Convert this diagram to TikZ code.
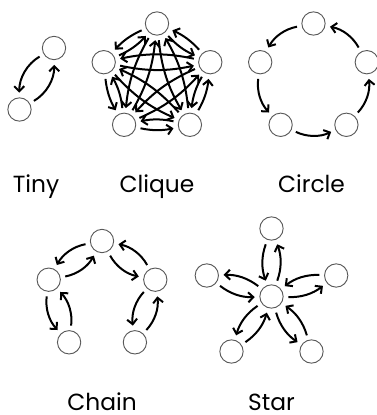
\documentclass[tikz,border=0pt]{standalone}
\usepackage{fontspec}
\setmainfont{Poppins}
\usepackage{tikz}
\usetikzlibrary{arrows.meta}

\begin{document}
\begin{tikzpicture}[
  x=0.75pt,y=0.75pt,
  V/.style={draw=black!65,line width=0.7pt,circle,minimum size=17.5pt,inner sep=0pt},
  A/.style={line width=1.5pt,-{Straight Barb[length=3.8pt,width=7.5pt]},shorten >=3.5pt,shorten <=3.5pt},
  L/.style={font=\fontsize{17.5}{19}\selectfont,anchor=base,inner sep=0pt,text depth=0pt}
]
\useasboundingbox (0,0) rectangle (376,415);

% tiny
\node[V] (t1) at (54,367) {};
\node[V] (t2) at (19.5,305.5) {};
\draw[A] (t1) to[bend right=30] (t2);
\draw[A] (t2) to[bend right=30] (t1);
\node[L] (ltiny) at (36,222) {Tiny};

% clique
\node[V] (q1) at (157,391.5) {};
\node[V] (q2) at (103.7,352.8) {};
\node[V] (q3) at (124.1,290.2) {};
\node[V] (q4) at (189.9,290.2) {};
\node[V] (q5) at (210.3,352.8) {};
\draw[A] (q1) to[bend right=12] (q2);
\draw[A] (q1) to[bend right=12] (q3);
\draw[A] (q1) to[bend right=12] (q4);
\draw[A] (q1) to[bend right=12] (q5);
\draw[A] (q2) to[bend right=12] (q1);
\draw[A] (q2) to[bend right=12] (q3);
\draw[A] (q2) to[bend right=12] (q4);
\draw[A] (q2) to[bend right=12] (q5);
\draw[A] (q3) to[bend right=12] (q1);
\draw[A] (q3) to[bend right=12] (q2);
\draw[A] (q3) to[bend right=12] (q4);
\draw[A] (q3) to[bend right=12] (q5);
\draw[A] (q4) to[bend right=12] (q1);
\draw[A] (q4) to[bend right=12] (q2);
\draw[A] (q4) to[bend right=12] (q3);
\draw[A] (q4) to[bend right=12] (q5);
\draw[A] (q5) to[bend right=12] (q1);
\draw[A] (q5) to[bend right=12] (q2);
\draw[A] (q5) to[bend right=12] (q3);
\draw[A] (q5) to[bend right=12] (q4);
\node[L] (lclique) at (157,222) {Clique};

% circle
\node[V] (o1) at (313.5,391.5) {};
\node[V] (o2) at (260.2,352.8) {};
\node[V] (o3) at (280.6,290.2) {};
\node[V] (o4) at (346.4,290.2) {};
\node[V] (o5) at (366.8,352.8) {};
\draw[A] (o1) to[bend right=25] (o2);
\draw[A] (o2) to[bend right=25] (o3);
\draw[A] (o3) to[bend right=25] (o4);
\draw[A] (o4) to[bend right=25] (o5);
\draw[A] (o5) to[bend right=25] (o1);
\node[L] (lcircle) at (311.5,222) {Circle};

% chain
\node[V] (h1) at (102,174) {};
\node[V] (h2) at (48.7,135.3) {};
\node[V] (h3) at (69.1,72.7) {};
\node[V] (h4) at (134.9,72.7) {};
\node[V] (h5) at (155.3,135.3) {};
\draw[A] (h1) to[bend right=25] (h2);
\draw[A] (h2) to[bend right=25] (h1);
\draw[A] (h2) to[bend right=25] (h3);
\draw[A] (h3) to[bend right=25] (h2);
\draw[A] (h1) to[bend right=25] (h5);
\draw[A] (h5) to[bend right=25] (h1);
\draw[A] (h5) to[bend right=25] (h4);
\draw[A] (h4) to[bend right=25] (h5);
\node[L] (lchain) at (102,5) {Chain};

% star
\node[V] (s0) at (271.5,118.5) {};
\node[V] (s1) at (271.5,186.5) {};
\node[V] (s2) at (206.8,139.5) {};
\node[V] (s3) at (231.5,63.5) {};
\node[V] (s4) at (311.5,63.5) {};
\node[V] (s5) at (336.2,139.5) {};
\draw[A] (s0) to[bend right=20] (s1);
\draw[A] (s1) to[bend right=20] (s0);
\draw[A] (s0) to[bend right=20] (s2);
\draw[A] (s2) to[bend right=20] (s0);
\draw[A] (s0) to[bend right=20] (s3);
\draw[A] (s3) to[bend right=20] (s0);
\draw[A] (s0) to[bend right=20] (s4);
\draw[A] (s4) to[bend right=20] (s0);
\draw[A] (s0) to[bend right=20] (s5);
\draw[A] (s5) to[bend right=20] (s0);
\node[L] (lstar) at (271.5,5) {Star};
\end{tikzpicture}
\end{document}
